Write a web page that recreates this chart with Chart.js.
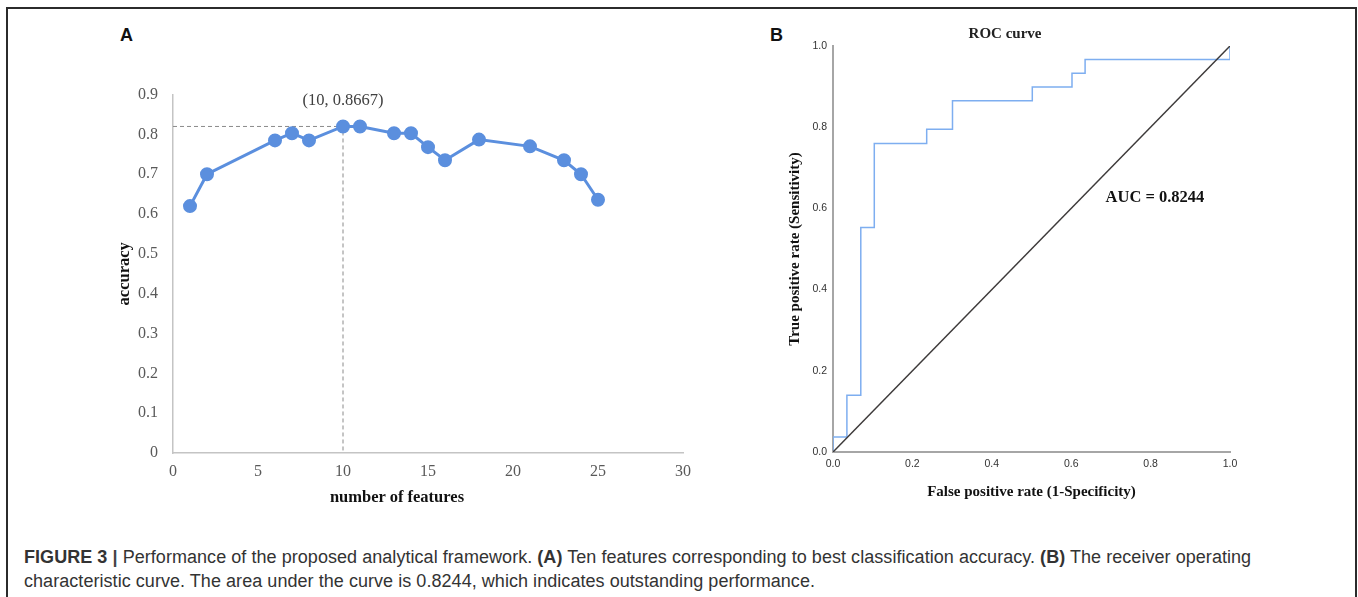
<!DOCTYPE html>
<html>
<head>
<meta charset="utf-8">
<script src="https://cdn.jsdelivr.net/npm/chart.js@4.4.1/dist/chart.umd.min.js"></script>
<style>
  body { margin: 0; background: #fff; width: 1358px; height: 597px; overflow: hidden; position: relative; font-family: "Liberation Sans", Arial, sans-serif; }
  #frame { position: absolute; left: 6px; top: 7px; width: 1351px; height: 640px; border: 2px solid #2b2b2b; box-sizing: border-box; }
  .panel-label { position: absolute; font: bold 18px "Liberation Sans", Arial, sans-serif; color: #111; }
  #wrapA { position: absolute; left: 100px; top: 70px; width: 600px; height: 450px; }
  #wrapB { position: absolute; left: 780px; top: 16px; width: 470px; height: 499px; }
  #xTitleA { position: absolute; left: 397px; top: 497px; transform: translate(-50%, -50%); font: bold 16.5px "Liberation Serif", "Times New Roman", serif; color: #111; white-space: nowrap; }
  #caption { position: absolute; left: 24px; top: 545px; font-size: 18px; line-height: 24px; color: #333; white-space: nowrap; letter-spacing: 0.05px; }
  #caption .bar { color: #444; font-weight: bold; }
</style>
</head>
<body>
<div id="frame"></div>
<div class="panel-label" style="left:120px; top:25px;">A</div>
<div class="panel-label" style="left:770px; top:25px;">B</div>
<div id="wrapA"><canvas id="accuracyChart" width="600" height="450"></canvas></div>
<div id="xTitleA">number of features</div>
<div id="wrapB"><canvas id="rocChart" width="470" height="499"></canvas></div>
<div id="caption"><b>FIGURE 3</b> <span class="bar">|</span> Performance of the proposed analytical framework. <b>(A)</b> Ten features corresponding to best classification accuracy. <b>(B)</b> The receiver operating<br>characteristic curve. The area under the curve is 0.8244, which indicates outstanding performance.</div>

<script>
// Panel A: accuracy vs number of features
const featureCounts = [1, 2, 6, 7, 8, 10, 11, 13, 14, 15, 16, 18, 21, 23, 24, 25];
const accuracy = [0.62, 0.70, 0.785, 0.803, 0.785, 0.82, 0.82, 0.803, 0.803, 0.768, 0.735, 0.787, 0.77, 0.735, 0.70, 0.636];
const bestCount = 10;
const bestAccuracy = 0.82;
const bestLabel = '(10, 0.8667)';

// Panel B: ROC curve corners
const fpr = [0, 0, 0.035, 0.035, 0.07, 0.07, 0.104, 0.104, 0.236, 0.236, 0.301, 0.301, 0.502, 0.502, 0.602, 0.602, 0.635, 0.635, 1, 1];
const tpr = [0, 0.037, 0.037, 0.14, 0.14, 0.553, 0.553, 0.76, 0.76, 0.795, 0.795, 0.865, 0.865, 0.899, 0.899, 0.933, 0.933, 0.967, 0.967, 1];
const aucText = 'AUC = 0.8244';

const serif = '"Liberation Serif", "Times New Roman", serif';
const sans = '"Liberation Sans", Arial, sans-serif';

// text drawn at a data position
function labelPlugin(id, text, xVal, yVal, font, color) {
  return {
    id: id,
    afterDatasetsDraw(chart) {
      const ctx = chart.ctx;
      ctx.save();
      ctx.font = font;
      ctx.fillStyle = color;
      ctx.textAlign = 'center';
      ctx.textBaseline = 'middle';
      ctx.fillText(text, chart.scales.x.getPixelForValue(xVal), chart.scales.y.getPixelForValue(yVal));
      ctx.restore();
    }
  };
}

const accCtx = document.getElementById('accuracyChart').getContext('2d');
const accuracyChart = new Chart(accCtx, {
  type: 'scatter',
  data: {
    datasets: [{
      data: featureCounts.map((c, i) => ({ x: c, y: accuracy[i] })),
      showLine: true,
      borderColor: '#5B8FDE',
      backgroundColor: '#5B8FDE',
      borderWidth: 3,
      pointRadius: 5.5,
      order: 1,
    }, {
      data: [{ x: 0, y: bestAccuracy }, { x: bestCount, y: bestAccuracy }, { x: bestCount, y: 0 }],
      showLine: true,
      borderColor: '#8a8a8a',
      borderWidth: 1,
      borderDash: [4, 3],
      pointRadius: 0,
      order: 2,
    }],
  },
  options: {
    responsive: false,
    animation: false,
    layout: { padding: { top: 7, right: 17, left: 0, bottom: 0 } },
    plugins: { legend: { display: false }, tooltip: { enabled: false } },
    scales: {
      x: {
        min: 0, max: 30,
        ticks: { stepSize: 5, padding: 9, color: '#595959', font: { family: serif, size: 16 } },
        grid: { display: false, drawTicks: false },
        border: { display: true, color: '#c4c4c4', width: 1.5 },
        afterFit: (scale) => { scale.height = 67; },
      },
      y: {
        min: 0, max: 0.9,
        ticks: { stepSize: 0.1, padding: 15, color: '#595959', font: { family: serif, size: 16 },
          callback: (v) => v === 0 ? '0' : v.toFixed(1) },
        grid: { display: false, drawTicks: false },
        border: { display: true, color: '#c4c4c4', width: 1.5 },
        title: { display: true, text: 'accuracy', color: '#111', font: { family: serif, size: 16.5, weight: 'bold' }, padding: { top: 15, bottom: 0 } },
        afterFit: (scale) => { scale.width = 73; },
      },
    },
  },
  plugins: [labelPlugin('bestLabel', bestLabel, bestCount, 0.885, '16.5px ' + serif, '#404040')],
});

const rocCtx = document.getElementById('rocChart').getContext('2d');
const rocChart = new Chart(rocCtx, {
  type: 'scatter',
  data: {
    datasets: [{
      data: fpr.map((f, i) => ({ x: f, y: tpr[i] })),
      showLine: true,
      borderColor: '#7EAEF0',
      borderWidth: 1.5,
      pointRadius: 0,
      order: 2,
    }, {
      data: [{ x: 0, y: 0 }, { x: 1, y: 1 }],
      showLine: true,
      borderColor: '#3d3a3a',
      borderWidth: 1.5,
      pointRadius: 0,
      order: 1,
    }],
  },
  options: {
    responsive: false,
    animation: false,
    layout: { padding: { top: 0, right: 20, left: 0, bottom: 0 } },
    plugins: {
      legend: { display: false },
      tooltip: { enabled: false },
      title: { display: true, text: 'ROC curve', color: '#222', font: { family: serif, size: 15, weight: 'bold' }, padding: { top: 9, bottom: 3 } },
    },
    scales: {
      x: {
        min: 0, max: 1,
        ticks: { stepSize: 0.2, padding: 6, color: '#333', font: { family: sans, size: 10.5 }, callback: (v) => v.toFixed(1) },
        grid: { display: false, drawTicks: false },
        border: { display: true, color: '#a6a6a6', width: 2 },
        title: { display: true, text: 'False positive rate (1-Specificity)', color: '#111', font: { family: serif, size: 15, weight: 'bold' }, padding: { top: 0, bottom: 14 } },
        afterFit: (scale) => { scale.height = 63; },
      },
      y: {
        min: 0, max: 1,
        ticks: { stepSize: 0.2, padding: 6, color: '#333', font: { family: sans, size: 10.5 }, callback: (v) => v.toFixed(1) },
        grid: { display: false, drawTicks: false },
        border: { display: true, color: '#a6a6a6', width: 2 },
        title: { display: true, text: 'True positive rate (Sensitivity)', color: '#111', font: { family: serif, size: 15, weight: 'bold' }, padding: { top: 6, bottom: 0 } },
        afterFit: (scale) => { scale.width = 53; },
      },
    },
  },
  plugins: [labelPlugin('aucLabel', aucText, 0.811, 0.627, 'bold 16.5px ' + serif, '#111')],
});
</script>
</body>
</html>
